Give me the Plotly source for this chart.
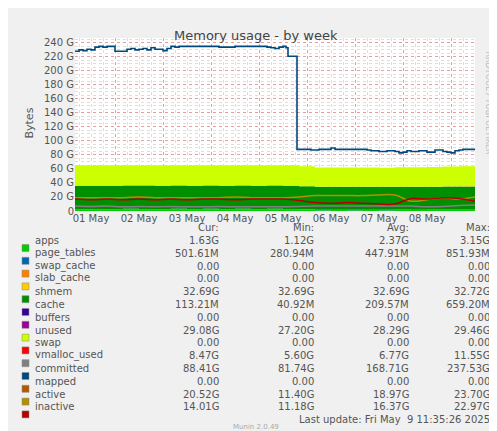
import plotly.graph_objects as go

# ---- data (hours since 01 May 00:00, values in GB) ----
t_area = [4, 12, 20, 28, 36, 44, 52, 60, 68, 76, 84, 92, 100, 108, 116, 124, 132, 140, 148, 156, 164, 172, 180, 188, 196, 204]
apps = [2.4, 2.5, 2.4, 2.6, 2.5, 2.5, 2.6, 2.5, 2.6, 2.5, 2.6, 2.5, 2.6, 2.4, 2.0, 1.2, 1.3, 1.2, 1.3, 1.2, 1.4, 1.3, 1.5, 1.6, 1.6, 1.6]
page_tables = [0.5, 0.5, 0.5, 0.5, 0.5, 0.5, 0.5, 0.5, 0.5, 0.5, 0.5, 0.5, 0.5, 0.5, 0.5, 0.6, 0.6, 0.6, 0.6, 0.6, 0.6, 0.6, 0.5, 0.5, 0.5, 0.5]
shmem = [32.69] * 26
cache = [0.6, 0.5, 0.6, 0.5, 0.6, 0.5, 0.6, 0.5, 0.6, 0.5, 0.6, 0.5, 0.6, 0.5, 0.3, 0.1, 0.1, 0.1, 0.1, 0.1, 0.1, 0.1, 0.1, 0.1, 0.1, 0.1]
unused = [29.0, 29.0, 29.1, 29.0, 29.1, 29.0, 29.0, 29.1, 29.0, 29.0, 29.1, 29.0, 29.0, 29.1, 28.5, 27.5, 27.4, 27.4, 27.3, 27.3, 27.5, 27.6, 28.0, 28.5, 29.0, 29.1]
vmalloc_used = [7.0, 6.5, 7.0, 6.0, 6.5, 6.0, 6.5, 6.0, 6.0, 6.5, 6.0, 6.0, 6.0, 6.0, 6.5, 7.0, 7.0, 7.0, 7.0, 7.0, 7.0, 7.0, 6.0, 6.5, 8.0, 8.5]
active = [19, 19, 19, 19, 20, 19, 19, 19, 19, 19, 20, 19, 19, 19, 20, 22, 22, 22, 22, 23, 23, 14, 16, 19, 17, 20]
inactive = [17, 16, 17, 16, 17, 16, 17, 16, 17, 17, 16, 17, 17, 17, 15, 12, 11, 12, 11, 10, 10, 18, 17, 19, 18, 14]

t_comm = [4, 6, 8, 10, 12, 14, 16, 18, 20, 22, 24, 28, 30, 32, 34, 36, 38, 40, 42, 44, 46, 48, 50, 52, 54, 56, 60, 64, 68, 72, 76, 80, 84, 88, 92, 96, 100, 102, 104, 106, 108, 109.5, 110.5, 114, 115, 118, 122, 126, 130, 132, 134, 140, 146, 150, 152, 156, 160, 164, 166, 168, 170, 172, 176, 180, 184, 188, 190, 192, 194, 196, 198, 204]
committed = [228, 230, 229, 231, 230, 234, 235, 234, 235, 235, 228, 228, 231, 232, 230, 231, 232, 230, 233, 231, 231, 229, 232, 235, 234, 235, 235, 235, 235, 235, 234, 234, 235, 235, 235, 235, 234, 233, 232, 234, 235, 233, 221, 221, 88, 88, 87, 88, 88, 90, 88, 88, 88, 87, 86, 85, 86, 85, 83, 84, 86, 85, 86, 84, 87, 85, 84, 83, 86, 87, 88, 88]

day_ticks = [12, 36, 60, 84, 108, 132, 156, 180]
day_labels = ["01 May", "02 May", "03 May", "04 May", "05 May", "06 May", "07 May", "08 May"]

legend_names = ["apps", "page_tables", "swap_cache", "slab_cache", "shmem", "cache", "buffers", "unused", "swap",
                "vmalloc_used", "committed", "mapped", "active", "inactive"]
legend_colors = ["#00CC00", "#0066B3", "#FF8000", "#FFCC00", "#008F00", "#330099", "#990099", "#CCFF00", "#FF0000",
                 "#808080", "#00487D", "#B35A00", "#B38F00", "#B30000"]
cur = ["1.63G", "501.61M", "0.00", "0.00", "32.69G", "113.21M", "0.00", "29.08G", "0.00", "8.47G", "88.41G", "0.00", "20.52G", "14.01G"]
mins = ["1.12G", "280.94M", "0.00", "0.00", "32.69G", "40.92M", "0.00", "27.20G", "0.00", "5.60G", "81.74G", "0.00", "11.40G", "11.18G"]
avgs = ["2.37G", "447.91M", "0.00", "0.00", "32.69G", "209.57M", "0.00", "28.29G", "0.00", "6.77G", "168.71G", "0.00", "18.97G", "16.37G"]
maxs = ["3.15G", "851.93M", "0.00", "0.00", "32.72G", "659.20M", "0.00", "29.46G", "0.00", "11.55G", "237.53G", "0.00", "23.70G", "22.97G"]

fig = go.Figure()
stack = [("apps", apps, "#00CC00"), ("page_tables", page_tables, "#0066B3"), ("shmem", shmem, "#008F00"),
         ("cache", cache, "#330099"), ("unused", unused, "#CCFF00")]
for name, vals, col in stack:
    fig.add_trace(go.Scatter(x=t_area, y=vals, name=name, stackgroup="s", mode="none",
                             fillcolor=col, line_shape="hv"))
for name, vals, col in [("vmalloc_used", vmalloc_used, "#808080"), ("active", active, "#B38F00"),
                        ("inactive", inactive, "#B30000")]:
    fig.add_trace(go.Scatter(x=t_area, y=vals, name=name, mode="lines", line=dict(color=col, width=1.5), line_shape="spline"))
fig.add_trace(go.Scatter(x=t_comm, y=committed, name="committed", mode="lines",
                         line=dict(color="#00487D", width=1.6), line_shape="hv"))

# plot area geometry in px
L, R, T, B = 67, 467, 30, 203
W, H = 497, 431
def px(x): return (x - L) / (R - L)
def py(y): return (B - y) / (B - T)

font = dict(family="DejaVu Sans", size=10, color="#555555")
ann = []
ann.append(dict(x=px(248), y=py(18), text="Memory usage - by week", showarrow=False, xref="paper", yref="paper",
                font=dict(family="DejaVu Sans", size=13, color="#444444")))
ann.append(dict(x=px(12), y=py(115), text="Bytes", textangle=-90, showarrow=False, xref="paper", yref="paper",
                font=dict(family="DejaVu Sans", size=11, color="#555555")))
ann.append(dict(x=px(487), y=py(95), text="RRDTOOL / TOBI OETIKER", textangle=90, showarrow=False, xref="paper",
                yref="paper", font=dict(family="DejaVu Sans", size=8, color="#BBBBBB")))
cols = [(213, "Cur:", cur), (308, "Min:", mins), (403, "Avg:", avgs), (484, "Max:", maxs)]
for xr, head, vals in cols:
    ann.append(dict(x=px(xr), y=py(227), text=head, showarrow=False, xref="paper", yref="paper",
                    xanchor="right", font=font))
shapes = []
for i, name in enumerate(legend_names):
    yy = 240 + 12.8 * i
    ann.append(dict(x=px(25), y=py(yy), text=name, showarrow=False, xref="paper", yref="paper",
                    xanchor="left", font=font))
    shapes.append(dict(type="rect", xref="paper", yref="paper", x0=px(14), x1=px(21), y0=py(yy - 3.5), y1=py(yy + 3.5),
                       fillcolor=legend_colors[i], line=dict(width=0.5, color="#888888")))
    for xr, head, vals in cols:
        ann.append(dict(x=px(xr), y=py(yy), text=vals[i], showarrow=False, xref="paper", yref="paper",
                        xanchor="right", font=font))
ann.append(dict(x=px(484), y=py(419), text="Last update: Fri May  9 11:35:26 2025", showarrow=False, xref="paper",
                yref="paper", xanchor="right", font=font))
ann.append(dict(x=px(248), y=py(425), text="Munin 2.0.49", showarrow=False, xref="paper", yref="paper",
                yanchor="bottom", font=dict(family="DejaVu Sans", size=7, color="#AAAAAA")))

fig.update_layout(
    width=W, height=H, margin=dict(l=L, r=W - R, t=T, b=H - B, autoexpand=False),
    paper_bgcolor="#F0F0F0", plot_bgcolor="white", showlegend=False,
    annotations=ann, shapes=shapes,
    xaxis=dict(range=[4, 204], tickvals=[24, 48, 72, 96, 120, 144, 168, 192], ticktext=[""] * 8,
               showgrid=True, gridcolor="rgba(230,120,120,0.6)", griddash="dot", gridwidth=1,
               minor=dict(dtick=6, tick0=0, showgrid=True, gridcolor="#DDDDDD", griddash="dot"),
               zeroline=False, showline=False, ticks="", automargin=False),
    xaxis2=dict(range=[4, 204], overlaying="x", side="bottom", tickvals=day_ticks, ticktext=day_labels,
                showgrid=False, zeroline=False, tickfont=font, ticks="", automargin=False),
    yaxis=dict(range=[0, 247], tickvals=list(range(0, 241, 20)),
               ticktext=["0"] + [f"{v} G" for v in range(20, 241, 20)],
               showgrid=True, gridcolor="rgba(230,120,120,0.6)", griddash="dot",
               minor=dict(dtick=5, showgrid=True, gridcolor="#DDDDDD", griddash="dot"),
               zeroline=False, tickfont=font, ticks="", automargin=False),
)
fig.add_trace(go.Scatter(x=[4], y=[0], xaxis="x2", mode="markers", marker=dict(opacity=0), hoverinfo="skip"))
fig.write_html("out.html")
